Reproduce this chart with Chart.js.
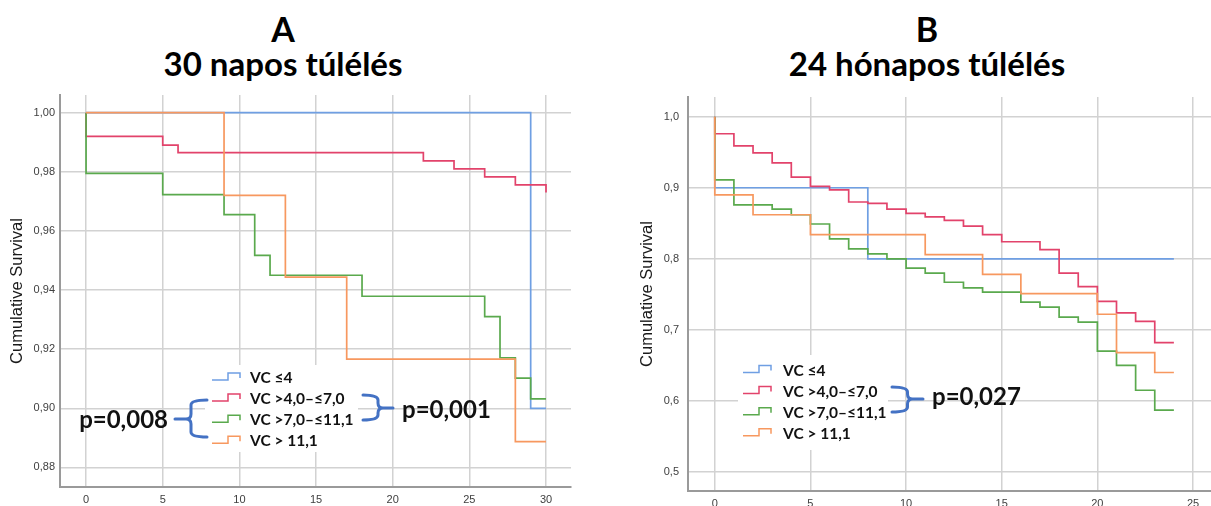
<!DOCTYPE html>
<html>
<head>
<meta charset="utf-8">
<script src="https://cdn.jsdelivr.net/npm/chart.js@4.4.1/dist/chart.umd.min.js"></script>
<style>
  html, body { margin: 0; padding: 0; background: #fff; }
  #page { position: relative; width: 1211px; height: 506px; overflow: hidden; background: #fff; }
  .ttl { position: absolute; width: 400px; text-align: center; font-family: Lato, 'Open Sans', sans-serif;
         font-weight: 700; color: #000; white-space: nowrap; }
  .letter { font-size: 34px; line-height: 34px; top: 12px; }
  .sub { font-size: 33px; line-height: 33px; top: 47px; }
  .box { position: absolute; top: 90px; height: 420px; }
</style>
</head>
<body>
<div id="page">
  <div class="ttl letter" style="left:83px">A</div>
  <div class="ttl sub" style="left:83px">30 napos túlélés</div>
  <div class="ttl letter" style="left:727px">B</div>
  <div class="ttl sub" style="left:727px">24 hónapos túlélés</div>
  <div class="box" style="left:0; width:580px"><canvas id="chartA"></canvas></div>
  <div class="box" style="left:630px; width:581px"><canvas id="chartB"></canvas></div>
</div>
<script>
// Csoportok (legend)
const groupLabels = ['VC ≤4', 'VC >4,0–≤7,0', 'VC >7,0–≤11,1', 'VC > 11,1'];
const groupColors = ['#6f9fe3', '#e2436b', '#5aa94d', '#f7985f'];

// A: 30 napos túlélés (idő napokban)
const timeA_vc4 = [0, 29, 30];
const survA_vc4 = [1.000, 0.900, 0.900];
const timeA_vc7 = [0, 0, 5, 6, 22, 24, 26, 28, 30];
const survA_vc7 = [1.000, 0.992, 0.989, 0.9865, 0.9837, 0.981, 0.9783, 0.9756, 0.973];
const timeA_vc11 = [0, 0, 5, 9, 11, 12, 18, 26, 27, 28, 29, 30];
const survA_vc11 = [1.000, 0.9795, 0.9723, 0.9655, 0.9517, 0.945, 0.9379, 0.931, 0.9171, 0.9102, 0.9032, 0.9032];
const timeA_vcHigh = [0, 9, 13, 17, 28, 30];
const survA_vcHigh = [1.000, 0.972, 0.9444, 0.9166, 0.8887, 0.8887];
const xTicksA = [0, 5, 10, 15, 20, 25, 30];
const yTicksA = [0.88, 0.90, 0.92, 0.94, 0.96, 0.98, 1.00];

// B: 24 hónapos túlélés (idő hónapokban)
const timeB_vc4 = [0, 0, 8, 24];
const survB_vc4 = [1.000, 0.900, 0.800, 0.800];
const timeB_vc7 = [0, 0, 1, 2, 3, 4, 5, 6, 7, 8, 9, 10, 11, 12, 13, 14, 15, 17, 18, 19, 20, 21, 22, 23, 24];
const survB_vc7 = [1.000, 0.976, 0.959, 0.949, 0.935, 0.915, 0.902, 0.897, 0.880, 0.878, 0.870, 0.864, 0.859,
                   0.854, 0.846, 0.834, 0.824, 0.813, 0.780, 0.761, 0.740, 0.724, 0.712, 0.682, 0.682];
const timeB_vc11 = [0, 0, 1, 3, 4, 5, 6, 7, 8, 9, 10, 11, 12, 13, 14, 16, 17, 18, 19, 20, 21, 22, 23, 24];
const survB_vc11 = [1.000, 0.911, 0.876, 0.870, 0.862, 0.849, 0.828, 0.814, 0.807, 0.800, 0.787, 0.780,
                    0.767, 0.759, 0.753, 0.739, 0.732, 0.718, 0.711, 0.670, 0.650, 0.615, 0.587, 0.587];
const timeB_vcHigh = [0, 0, 2, 5, 11, 14, 16, 20, 21, 23, 24];
const survB_vcHigh = [1.000, 0.890, 0.862, 0.834, 0.806, 0.778, 0.751, 0.722, 0.668, 0.640, 0.640];
const xTicksB = [0, 5, 10, 15, 20, 25];
const yTicksB = [0.5, 0.6, 0.7, 0.8, 0.9, 1.0];

/**
 * Kapcsos zárójel rajzolása (x0 = szárak vége, xt = csúcs)
 */
function drawBrace(ctx, br) {
    const dir = Math.sign(br.xt - br.x0);
    const xc = br.x0 + (br.xt - br.x0) * 0.5;
    const r = 5;
    ctx.beginPath();
    ctx.moveTo(br.x0, br.y1);
    ctx.quadraticCurveTo(xc, br.y1, xc, br.y1 + r);
    ctx.lineTo(xc, br.ym - r);
    ctx.quadraticCurveTo(xc, br.ym, xc + dir * r, br.ym);
    ctx.lineTo(br.xt, br.ym);
    ctx.moveTo(xc + dir * r, br.ym);
    ctx.quadraticCurveTo(xc, br.ym, xc, br.ym + r);
    ctx.lineTo(xc, br.y2 - r);
    ctx.quadraticCurveTo(xc, br.y2, br.x0, br.y2);
    ctx.stroke();
}

// Legend + p-értékek a plot területen belül
const kmNotes = {
    id: 'kmNotes',
    afterDatasetsDraw(chart, args, opts) {
        const ctx = chart.ctx;
        ctx.save();
        const b = opts.box;
        ctx.fillStyle = '#ffffff';
        ctx.fillRect(b.x, b.y, b.w, b.h);

        groupLabels.forEach((label, i) => {
            const cy = opts.legendY + i * opts.rowGap;
            const x0 = opts.iconX;
            ctx.strokeStyle = groupColors[i];
            ctx.lineWidth = 1.5;
            ctx.beginPath();
            ctx.moveTo(x0, cy + 3);
            ctx.lineTo(x0 + 16, cy + 3);
            ctx.lineTo(x0 + 16, cy - 4);
            ctx.lineTo(x0 + 28, cy - 4);
            ctx.lineTo(x0 + 28, cy + 1);
            ctx.stroke();
            ctx.fillStyle = '#111111';
            ctx.font = 'bold 15.5px Lato, sans-serif';
            ctx.textBaseline = 'middle';
            ctx.textAlign = 'left';
            ctx.fillText(label, opts.textX, cy + 1);
        });

        ctx.strokeStyle = '#4472c4';
        ctx.lineWidth = 3;
        ctx.lineCap = 'round';
        opts.braces.forEach(br => drawBrace(ctx, br));

        ctx.fillStyle = '#111111';
        ctx.font = 'bold 24px Lato, sans-serif';
        ctx.textBaseline = 'alphabetic';
        opts.pTexts.forEach(p => {
            ctx.textAlign = p.align;
            ctx.fillText(p.text, p.x, p.y);
        });
        ctx.restore();
    }
};

function toPoints(times, surv) {
    return times.map((t, i) => ({ x: t, y: surv[i] }));
}

// a tengelyek ne tolják el a plot területet (csak a layout padding számít)
function noScalePadding(scale) {
    scale.paddingTop = 0;
    scale.paddingBottom = 0;
    scale.paddingLeft = 0;
    scale.paddingRight = 0;
}

function makeChart(id, series, ax, notes) {
    const datasets = series.map((s, i) => ({
        label: groupLabels[i],
        data: toPoints(s[0], s[1]),
        borderColor: groupColors[i],
        borderWidth: 1.7,
        pointRadius: 0,
        stepped: 'before',
        fill: false,
        order: 4 - i
    }));

    return new Chart(document.getElementById(id), {
        type: 'line',
        data: { datasets: datasets },
        options: {
            responsive: true,
            maintainAspectRatio: false,
            animation: false,
            layout: { padding: ax.padding },
            scales: {
                x: {
                    type: 'linear',
                    min: ax.xMin,
                    max: ax.xMax,
                    afterBuildTicks: scale => { scale.ticks = ax.xTicks.map(v => ({ value: v })); },
                    afterFit: scale => { scale.height = ax.xHeight; noScalePadding(scale); },
                    ticks: {
                        padding: 6,
                        color: '#404040',
                        font: { family: 'Liberation Sans, Arial, sans-serif', size: 11 },
                        callback: v => String(v)
                    },
                    grid: { color: '#d2d2d2', lineWidth: 1.5, drawTicks: false },
                    border: { color: '#9a9a9a', width: 2 }
                },
                y: {
                    type: 'linear',
                    min: ax.yMin,
                    max: ax.yMax,
                    afterBuildTicks: scale => { scale.ticks = ax.yTicks.map(v => ({ value: v })); },
                    afterFit: scale => { scale.width = ax.yWidth; noScalePadding(scale); },
                    ticks: {
                        padding: ax.yPad,
                        color: '#404040',
                        font: { family: 'Liberation Sans, Arial, sans-serif', size: 11 },
                        callback: v => v.toFixed(ax.yDec).replace('.', ',')
                    },
                    grid: { color: '#d2d2d2', lineWidth: 1.5, drawTicks: false },
                    border: { color: '#9a9a9a', width: 2 },
                    title: {
                        display: true,
                        text: 'Cumulative Survival',
                        color: '#1a1a1a',
                        padding: { top: 8, bottom: 0 },
                        font: { family: 'Liberation Sans, Arial, sans-serif', size: 16.5 }
                    }
                }
            },
            plugins: {
                legend: { display: false },
                tooltip: { enabled: false },
                kmNotes: notes
            }
        },
        plugins: [kmNotes]
    });
}

makeChart('chartA',
    [[timeA_vc4, survA_vc4], [timeA_vc7, survA_vc7], [timeA_vc11, survA_vc11], [timeA_vcHigh, survA_vcHigh]],
    {
        xMin: -1.70, xMax: 31.63, yMin: 0.87337, yMax: 1.00598,
        xTicks: xTicksA, yTicks: yTicksA, yDec: 2,
        padding: { top: 5, right: 9, bottom: 0, left: 0 },
        xHeight: 23, yWidth: 60, yPad: 5
    },
    {
        box: { x: 205, y: 275, w: 153, h: 87 },
        iconX: 212, textX: 250, legendY: 287, rowGap: 21.1,
        braces: [
            { x0: 207, xt: 175, y1: 310, y2: 347, ym: 329 },
            { x0: 363, xt: 393, y1: 305, y2: 330, ym: 318 }
        ],
        pTexts: [
            { text: 'p=0,008', x: 168, y: 338, align: 'right' },
            { text: 'p=0,001', x: 402, y: 328, align: 'left' }
        ]
    }
);

makeChart('chartB',
    [[timeB_vc4, survB_vc4], [timeB_vc7, survB_vc7], [timeB_vc11, survB_vc11], [timeB_vcHigh, survB_vcHigh]],
    {
        xMin: -1.40, xMax: 25.94, yMin: 0.47324, yMax: 1.02775,
        xTicks: xTicksB, yTicks: yTicksB, yDec: 1,
        padding: { top: 7, right: 0, bottom: 0, left: 0 },
        xHeight: 19, yWidth: 58, yPad: 9
    },
    {
        box: { x: 108, y: 265, w: 150, h: 95 },
        iconX: 113, textX: 153, legendY: 279.5, rowGap: 21.1,
        braces: [
            { x0: 262, xt: 293, y1: 297, y2: 322, ym: 309 }
        ],
        pTexts: [
            { text: 'p=0,027', x: 302, y: 315, align: 'left' }
        ]
    }
);
</script>
</body>
</html>
